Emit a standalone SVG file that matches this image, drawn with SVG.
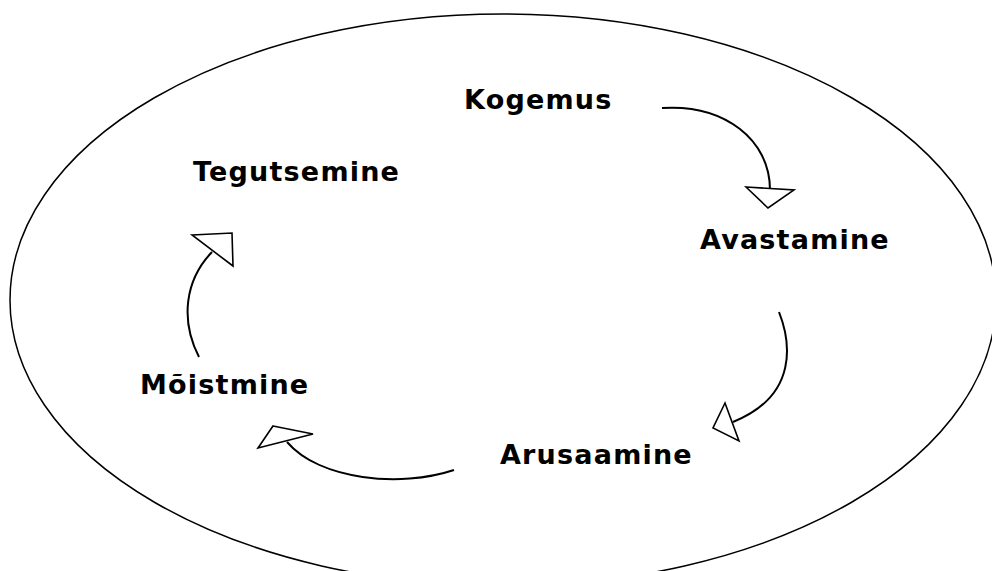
<svg xmlns="http://www.w3.org/2000/svg" width="992" height="571" viewBox="0 0 992 571">
<style>
.lbl{font-family:"DejaVu Sans","Verdana",sans-serif;font-weight:bold;font-size:27px;letter-spacing:1.2px;fill:#000}
.arc{fill:none;stroke:#000;stroke-width:2}
.head{fill:#fff;stroke:#000;stroke-width:1.6;stroke-linejoin:miter}
</style>
<rect width="992" height="571" fill="#fff"/>
<ellipse id="boundary" cx="503" cy="300" rx="493" ry="286" fill="none" stroke="#000" stroke-width="1.5"/>
<g id="node-kogemus"><text class="lbl" x="464" y="109">Kogemus</text></g>
<g id="node-tegutsemine"><text class="lbl" x="193" y="181">Tegutsemine</text></g>
<g id="node-avastamine"><text class="lbl" x="700" y="249">Avastamine</text></g>
<g id="node-moistmine"><text class="lbl" x="140" y="394">Mõistmine</text></g>
<g id="node-arusaamine"><text class="lbl" x="500" y="464">Arusaamine</text></g>
<g id="connectors">
<path class="arc" d="M662,108 C725,104 770,140 770,190"/>
<polygon class="head" points="746,187 794,190 768,208"/>
<path class="arc" d="M779,312 C790,340 800,395 733,422"/>
<polygon class="head" points="725,403 713,428 739,441"/>
<path class="arc" d="M454,470 C400,488 320,480 287,442"/>
<polygon class="head" points="273,426 313,434 258,448"/>
<path class="arc" d="M199,357 C180,320 185,280 212,252"/>
<polygon class="head" points="192,235 232,233 233,266"/>
</g>
</svg>
